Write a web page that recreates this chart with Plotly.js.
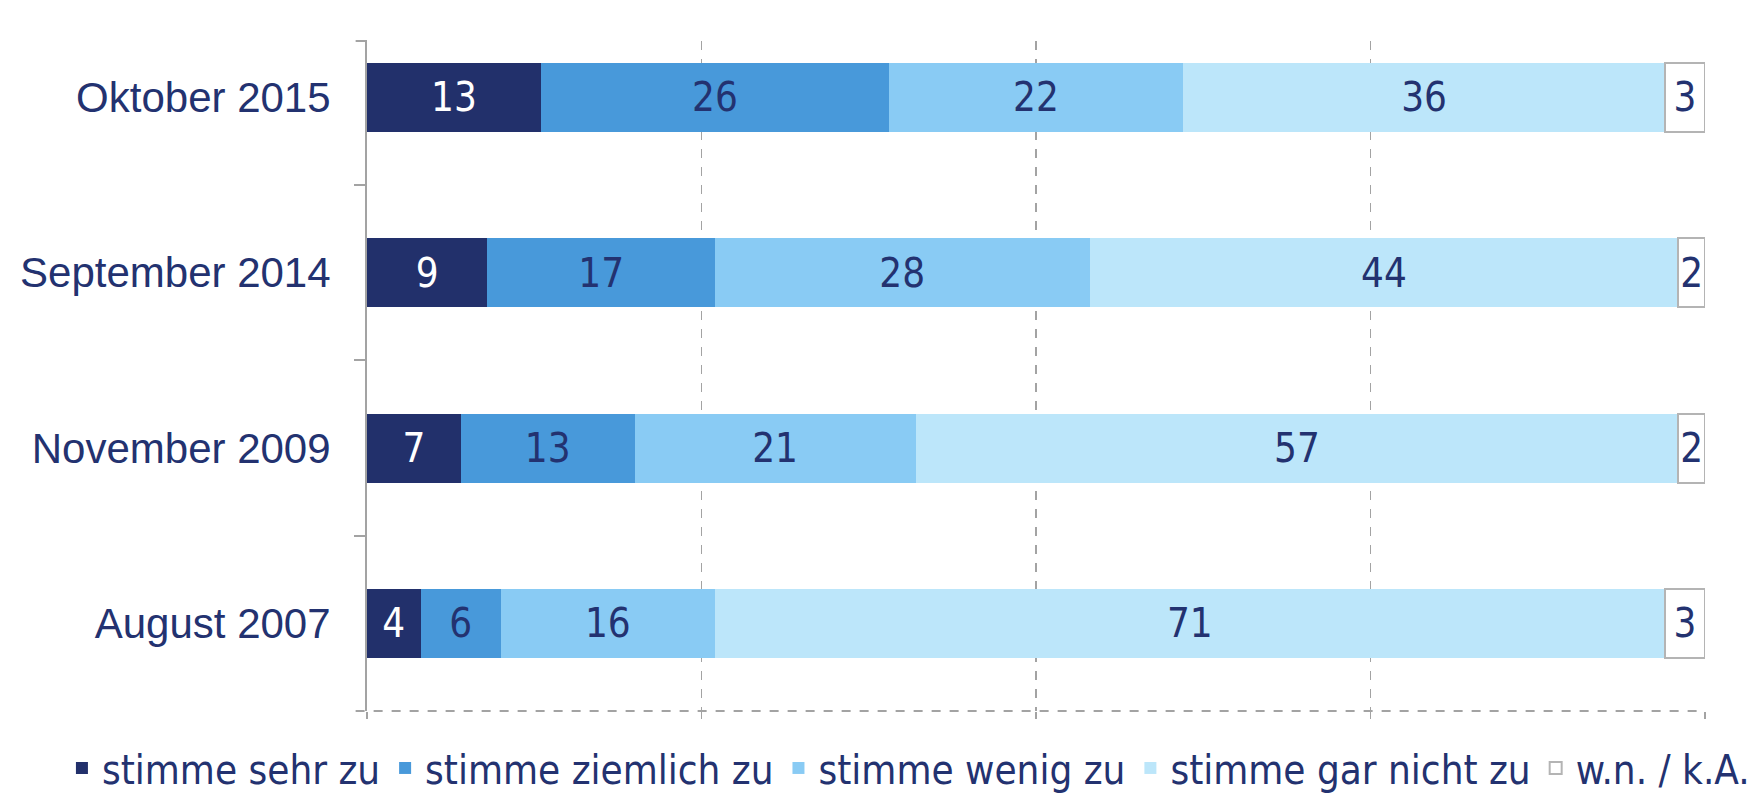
<!DOCTYPE html>
<html>
<head>
<meta charset="utf-8">
<script src="https://cdn.plot.ly/plotly-3.0.1.min.js"></script>
<style>
html,body{margin:0;padding:0;background:#fff;}
#chart{width:1757px;height:793px;}
</style>
</head>
<body>
<div id="chart"></div>
<script>
var categories = ["Oktober 2015", "September 2014", "November 2009", "August 2007"];
var seriesNames = ["stimme sehr zu", "stimme ziemlich zu", "stimme wenig zu", "stimme gar nicht zu", "w.n. / k.A."];
var sehrZu = [13, 9, 7, 4];
var ziemlichZu = [26, 17, 13, 6];
var wenigZu = [22, 28, 21, 16];
var garNichtZu = [36, 44, 57, 71];
var wnKA = [3, 2, 2, 3];

var values = [sehrZu, ziemlichZu, wenigZu, garNichtZu, wnKA];
var fills = ["#22306B", "#4899DA", "#89CBF4", "#BCE6FA", "#FFFFFF"];
var textColors = ["#FFFFFF", "#233270", "#233270", "#233270", "#233270"];
var narrow = "'Liberation Sans Narrow', 'Arial Narrow', 'DejaVu Sans Condensed', sans-serif";
var navy = "#233270";

var traces = values.map(function(v, i) {
  return {
    type: "bar",
    orientation: "h",
    name: seriesNames[i],
    y: categories,
    x: v,
    width: 0.394,
    text: v.map(String),
    textposition: "inside",
    insidetextanchor: "middle",
    textangle: 0,
    constraintext: "none",
    textfont: {family: narrow, size: 40, color: textColors[i]},
    marker: {
      color: fills[i],
      line: {color: i === 4 ? "#B4B4B4" : fills[i], width: i === 4 ? 2 : 0}
    },
    hoverinfo: "x+y+name"
  };
});

var layout = {
  width: 1757,
  height: 793,
  margin: {l: 367, r: 52, t: 41, b: 82, autoexpand: false},
  paper_bgcolor: "#FFFFFF",
  plot_bgcolor: "#FFFFFF",
  barmode: "stack",
  showlegend: true,
  legend: {
    orientation: "h",
    xref: "paper", yref: "paper",
    x: -0.228, xanchor: "left",
    y: -0.085, yanchor: "middle",
    traceorder: "normal",
    font: {family: narrow, size: 40, color: navy},
    itemwidth: 30,
    tracegroupgap: 0
  },
  xaxis: {
    range: [0, 100],
    dtick: 25,
    tick0: 0,
    showgrid: true,
    gridcolor: "#A3A3A3",
    gridwidth: 1.6,
    griddash: "dash",
    zeroline: false,
    showline: false,
    showticklabels: false,
    ticks: "outside",
    ticklen: 7,
    tickcolor: "#A3A3A3",
    tickwidth: 1.6,
    fixedrange: true
  },
  yaxis: {
    type: "category",
    range: [3.5, -0.322],
    tickson: "boundaries",
    ticks: "outside",
    ticklen: 11,
    tickcolor: "#A3A3A3",
    tickwidth: 2,
    showline: true,
    linecolor: "#A3A3A3",
    linewidth: 2,
    showgrid: false,
    zeroline: false,
    ticklabelstandoff: 26,
    tickfont: {family: "'Liberation Sans', Arial, sans-serif", size: 42, color: navy},
    fixedrange: true
  },
  shapes: [
    {type: "line", xref: "paper", yref: "paper", x0: -0.0085, x1: 1, y0: 0, y1: 0,
     line: {color: "#A3A3A3", width: 2, dash: "dash"}, layer: "above"},
    {type: "line", xref: "paper", yref: "paper", x0: -0.0085, x1: 0, y0: 1, y1: 1,
     line: {color: "#A3A3A3", width: 2}, layer: "above"}
  ]
};

Plotly.newPlot("chart", traces, layout, {displayModeBar: false, staticPlot: true});
</script>
</body>
</html>
